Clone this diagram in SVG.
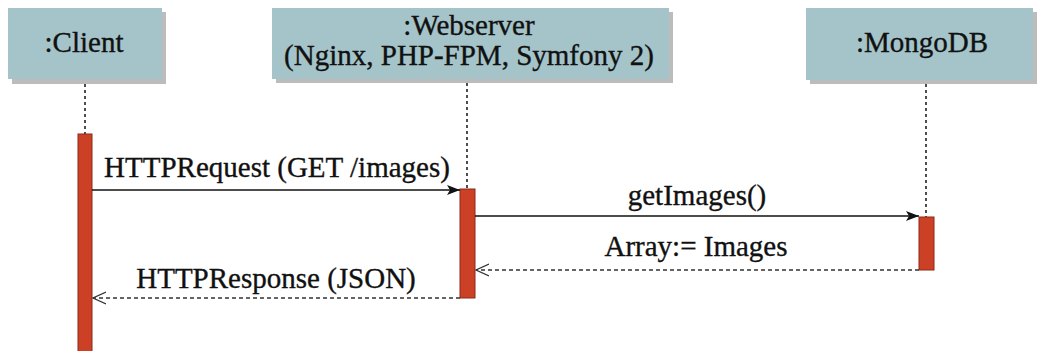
<svg xmlns="http://www.w3.org/2000/svg" width="1037" height="351" viewBox="0 0 1037 351">
<defs>
<style>
.box{fill:#a4c4c9}
.shadow{fill:#bcbcbc}
.t{font-family:'Liberation Serif','Times New Roman',Times,serif;font-size:29px;fill:#111;stroke:#111;stroke-width:0.35;text-anchor:middle}
.life{stroke:#222;stroke-width:1.6;stroke-dasharray:3,3;fill:none}
.act{fill:#cc4125;stroke:#8a2a18;stroke-width:1}
.msg{stroke:#111;stroke-width:1.4;fill:none}
.ret{stroke:#333;stroke-width:1.4;fill:none;stroke-dasharray:4,3}
</style>
<marker id="solid" markerWidth="14" markerHeight="12" refX="13" refY="6" orient="auto" markerUnits="userSpaceOnUse">
<path d="M0,1 L13,6 L0,11 L3,6 Z" fill="#111"/>
</marker>
<marker id="open" markerWidth="14" markerHeight="14" refX="13" refY="7" orient="auto" markerUnits="userSpaceOnUse">
<path d="M0,1 L13,7 L0,13" fill="none" stroke="#333" stroke-width="1.2"/>
</marker>
</defs>
<rect width="1037" height="351" fill="#fff"/>
<g id="client">
<rect class="shadow" x="12" y="12" width="154" height="72"/>
<rect class="box" x="8" y="8" width="154" height="71"/>
<text class="t" font-family="Liberation Serif, serif" x="84" y="52">:Client</text>
<line class="life" x1="85" y1="84" x2="85" y2="134"/>
<rect class="act" x="78" y="134" width="14" height="220"/>
</g>
<g id="webserver">
<rect class="shadow" x="276" y="12" width="397" height="71"/>
<rect class="box" x="272" y="8" width="397" height="71"/>
<text class="t" font-family="Liberation Serif, serif" x="469" y="35">:Webserver</text>
<text class="t" font-family="Liberation Serif, serif" x="469" y="65">(Nginx, PHP-FPM, Symfony 2)</text>
<line class="life" x1="467" y1="83" x2="467" y2="189"/>
<rect class="act" x="460" y="189" width="15" height="109"/>
</g>
<g id="mongodb">
<rect class="shadow" x="810" y="12" width="227" height="72"/>
<rect class="box" x="806" y="8" width="227" height="72"/>
<text class="t" font-family="Liberation Serif, serif" x="922" y="52">:MongoDB</text>
<line class="life" x1="926" y1="84" x2="926" y2="217"/>
<rect class="act" x="919" y="217" width="15" height="53"/>
</g>
<g id="connectors">
<line class="msg" x1="92" y1="190" x2="460" y2="190" marker-end="url(#solid)"/>
<text class="t" font-family="Liberation Serif, serif" x="277" y="177">HTTPRequest (GET /images)</text>
<line class="msg" x1="475" y1="216" x2="919" y2="216" marker-end="url(#solid)"/>
<text class="t" font-family="Liberation Serif, serif" x="697" y="205">getImages()</text>
<line class="ret" x1="919" y1="270" x2="476" y2="270" marker-end="url(#open)"/>
<text class="t" font-family="Liberation Serif, serif" x="696" y="256">Array:= Images</text>
<line class="ret" x1="460" y1="298" x2="93" y2="298" marker-end="url(#open)"/>
<text class="t" font-family="Liberation Serif, serif" x="276" y="288">HTTPResponse (JSON)</text>
</g>
</svg>
